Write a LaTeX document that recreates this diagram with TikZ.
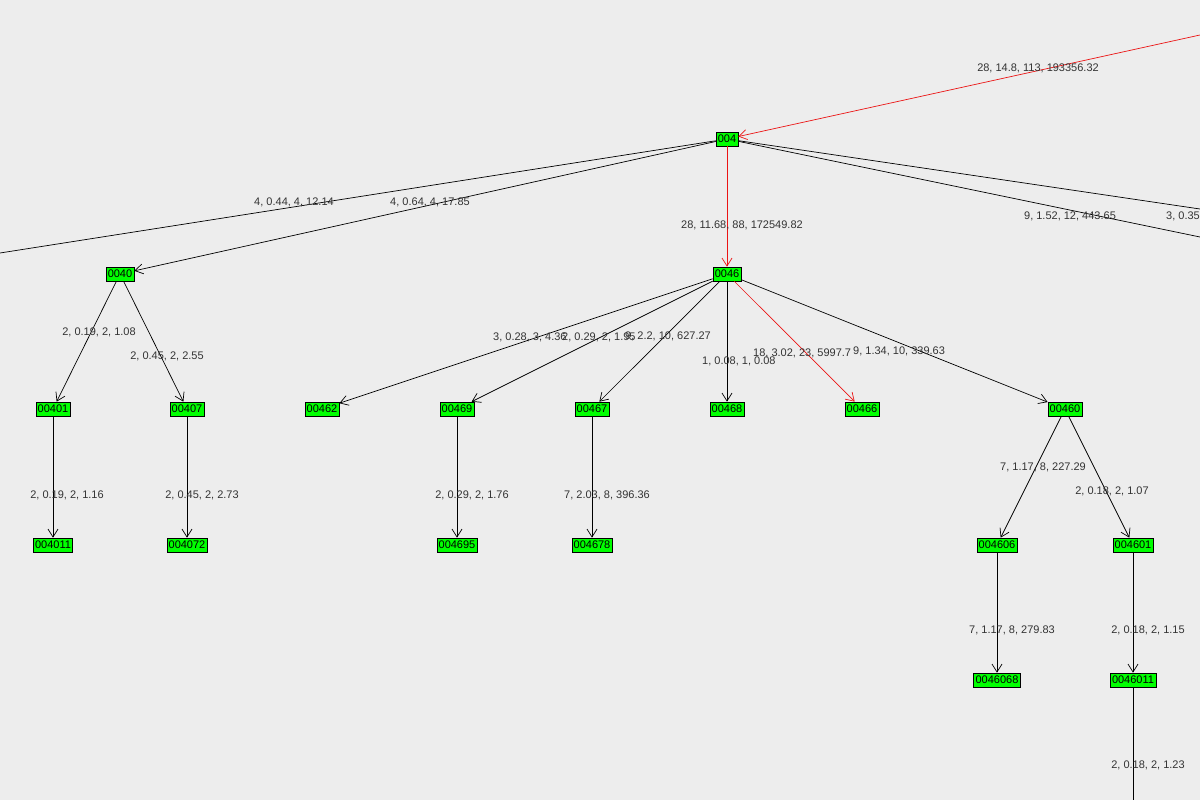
\documentclass[tikz,border=0pt]{standalone}
\usepackage{fontspec}
\setmainfont{Liberation Sans}
\usetikzlibrary{arrows.meta}
\begin{document}
\begin{tikzpicture}[x=1pt,y=-1pt,
  nd/.style={draw=black,fill=green,inner sep=1.8pt,minimum height=14pt,font=\fontsize{11}{13}\selectfont,line width=0.6pt},
  ed/.style={draw=black,line width=0.7pt,-{Straight Barb[length=8pt,width=10pt]}},
  redln/.style={draw={rgb,255:red,235;green,20;blue,20}},
  lb/.style={text=black!80,font=\fontsize{11}{13}\selectfont,inner sep=0pt}]
\fill[black!7] (0,0) rectangle (1200,800);
\useasboundingbox (0,0) rectangle (1200,800);
\node[nd] (n004) at (727,139) {004};
\node[nd] (n0040) at (120,274) {0040};
\node[nd] (n0046) at (727,274) {0046};
\node[nd] (n00401) at (53,409) {00401};
\node[nd] (n00407) at (187,409) {00407};
\node[nd] (n00462) at (322,409) {00462};
\node[nd] (n00469) at (457,409) {00469};
\node[nd] (n00467) at (592,409) {00467};
\node[nd] (n00468) at (727,409) {00468};
\node[nd] (n00466) at (862,409) {00466};
\node[nd] (n00460) at (1065,409) {00460};
\node[nd] (n004011) at (53,545) {004011};
\node[nd] (n004072) at (187,545) {004072};
\node[nd] (n004695) at (457,545) {004695};
\node[nd] (n004678) at (592,545) {004678};
\node[nd] (n004606) at (997,545) {004606};
\node[nd] (n004601) at (1133,545) {004601};
\node[nd] (n0046068) at (997,680) {0046068};
\node[nd] (n0046011) at (1133,680) {0046011};
\coordinate (top) at (1200,35);
\coordinate (lft) at (0,253);
\coordinate (r1) at (1200,209);
\coordinate (r2) at (1200,237);
\coordinate (bot) at (1133,800);
\draw[ed,redln] (top) -- (n004);
\draw[line width=0.7pt] (n004) -- (lft);
\draw[line width=0.7pt] (n004) -- (r1);
\draw[line width=0.7pt] (n004) -- (r2);
\draw[ed] (n004) -- (n0040);
\draw[ed,redln] (n004) -- (n0046);
\draw[ed] (n0040) -- (n00401);
\draw[ed] (n0040) -- (n00407);
\draw[ed] (n0046) -- (n00462);
\draw[ed] (n0046) -- (n00469);
\draw[ed] (n0046) -- (n00467);
\draw[ed] (n0046) -- (n00468);
\draw[ed,redln] (n0046) -- (n00466);
\draw[ed] (n0046) -- (n00460);
\draw[ed] (n00401) -- (n004011);
\draw[ed] (n00407) -- (n004072);
\draw[ed] (n00469) -- (n004695);
\draw[ed] (n00467) -- (n004678);
\draw[ed] (n00460) -- (n004606);
\draw[ed] (n00460) -- (n004601);
\draw[ed] (n004606) -- (n0046068);
\draw[ed] (n004601) -- (n0046011);
\draw[line width=0.7pt] (n0046011) -- (bot);
\node[lb] (l1) at (1038,68) {28, 14.8, 113, 193356.32};
\node[lb] (l2) at (294,202) {4, 0.44, 4, 12.14};
\node[lb] (l3) at (430,202) {4, 0.64, 4, 17.85};
\node[lb] (l4) at (742,225) {28, 11.68, 88, 172549.82};
\node[lb] (l5) at (1070,216) {9, 1.52, 12, 443.65};
\node[lb,anchor=west] (l6) at (1166,216) {3, 0.35, 3, 1.06};
\node[lb] (l7) at (99,332) {2, 0.19, 2, 1.08};
\node[lb] (l8) at (167,356) {2, 0.45, 2, 2.55};
\node[lb,anchor=west] (l9) at (493,337) {3, 0.28, 3, 4.36};
\node[lb,anchor=west] (l10) at (562,337) {2, 0.29, 2, 1.95};
\node[lb,anchor=west] (l11) at (625,336) {9, 2.2, 10, 627.27};
\node[lb,anchor=west] (l12) at (702,361) {1, 0.08, 1, 0.08};
\node[lb,anchor=west] (l13) at (753,353) {18, 3.02, 23, 5997.7};
\node[lb,anchor=west] (l14) at (853,351) {9, 1.34, 10, 339.63};
\node[lb] (l15) at (67,495) {2, 0.19, 2, 1.16};
\node[lb] (l16) at (202,495) {2, 0.45, 2, 2.73};
\node[lb] (l17) at (472,495) {2, 0.29, 2, 1.76};
\node[lb] (l18) at (607,495) {7, 2.03, 8, 396.36};
\node[lb] (l19) at (1043,467) {7, 1.17, 8, 227.29};
\node[lb] (l20) at (1112,491) {2, 0.18, 2, 1.07};
\node[lb] (l21) at (1012,630) {7, 1.17, 8, 279.83};
\node[lb] (l22) at (1148,630) {2, 0.18, 2, 1.15};
\node[lb] (l23) at (1148,765) {2, 0.18, 2, 1.23};
\end{tikzpicture}
\end{document}
